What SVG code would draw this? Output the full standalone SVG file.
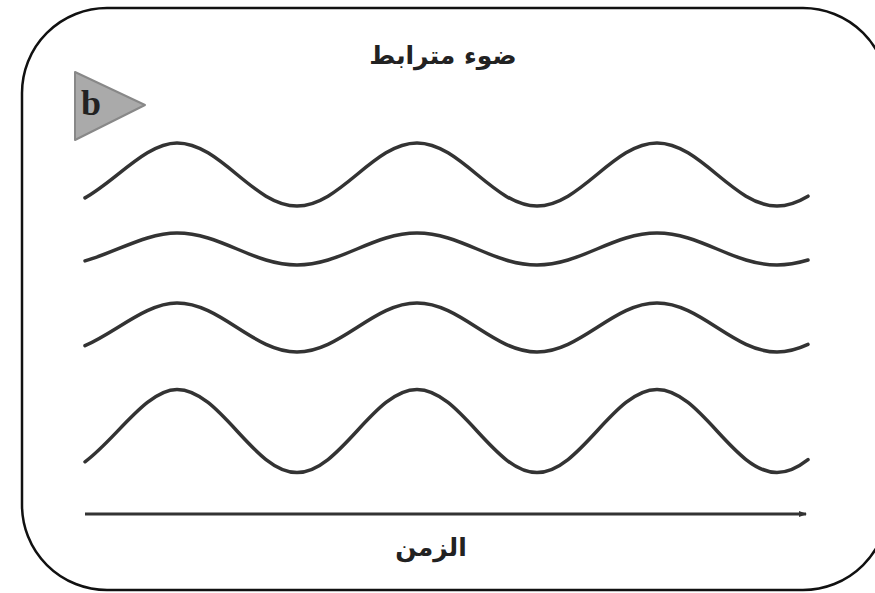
<svg xmlns="http://www.w3.org/2000/svg" width="875" height="593" viewBox="0 0 875 593">
<defs>
<style>
.wave{fill:none;stroke:#333;stroke-width:3.5;stroke-linecap:round}
.lbl{font-family:"DejaVu Sans","Noto Sans",sans-serif;font-weight:bold;fill:#222;text-anchor:middle}
</style>
<marker id="ah" markerWidth="8" markerHeight="8" refX="7" refY="4" orient="auto" markerUnits="userSpaceOnUse">
<path d="M0,1 L8,4 L0,7 Z" fill="#333"/>
</marker>
</defs>
<rect width="875" height="593" fill="#fff"/>
<g id="frame">
<rect x="22" y="8" width="866" height="582" rx="85" ry="85" fill="none" stroke="#111" stroke-width="2.5"/>
</g>
<g id="title"><text class="lbl" x="443" y="64" font-size="25">ضوء مترابط</text></g>
<g id="badge">
<polygon points="75,72 75,140 145,105" fill="#aaa" stroke="#888" stroke-width="2" stroke-linejoin="round"/>
<text x="81" y="115" font-family="Liberation Serif,serif" font-weight="bold" font-size="36" fill="#222">b</text>
</g>
<g id="wave1"><path class="wave" d="M85 197.9 C115.67 181 146.33 143 177 143 C220.6 143 253.4 206 297 206 C340.6 206 373.4 143 417 143 C460.6 143 493.4 206 537 206 C580.6 206 613.4 143 657 143 C700.6 143 733.4 206 777 206 C787.33 206 797.67 202.4 808 196.2"/></g>
<g id="wave2"><path class="wave" d="M85 260.9 C115.67 252.3 146.33 233 177 233 C220.6 233 253.4 265 297 265 C340.6 265 373.4 233 417 233 C460.6 233 493.4 265 537 265 C580.6 265 613.4 233 657 233 C700.6 233 733.4 265 777 265 C787.33 265 797.67 263.1 808 260"/></g>
<g id="wave3"><path class="wave" d="M85 345.7 C115.67 332.5 146.33 303 177 303 C220.6 303 253.4 352 297 352 C340.6 352 373.4 303 417 303 C460.6 303 493.4 352 537 352 C580.6 352 613.4 303 657 303 C700.6 303 733.4 352 777 352 C787.33 352 797.67 349.2 808 344.4"/></g>
<g id="wave4"><path class="wave" d="M85 461.8 C115.67 439.5 146.33 389.5 177 389.5 C220.6 389.5 253.4 472.5 297 472.5 C340.6 472.5 373.4 389.5 417 389.5 C460.6 389.5 493.4 472.5 537 472.5 C580.6 472.5 613.4 389.5 657 389.5 C700.6 389.5 733.4 472.5 777 472.5 C787.33 472.5 797.67 467.7 808 459.6"/></g>
<g id="connectors">
<line x1="85" y1="514" x2="806" y2="514" stroke="#333" stroke-width="2.8" marker-end="url(#ah)"/>
</g>
<g id="axis-label"><text class="lbl" x="431" y="556" font-size="25">الزمن</text></g>
</svg>
